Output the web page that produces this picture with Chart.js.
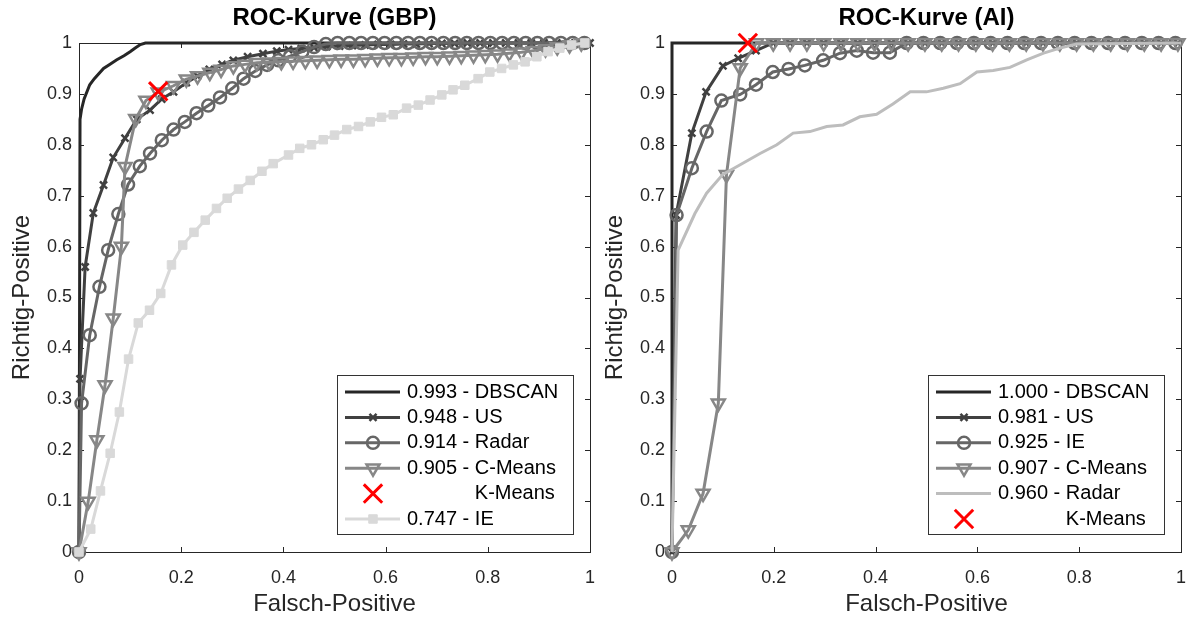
<!DOCTYPE html>
<html>
<head>
<meta charset="utf-8">
<script src="https://cdn.jsdelivr.net/npm/chart.js@4.4.0/dist/chart.umd.min.js"></script>
<style>
  html, body { margin: 0; padding: 0; background: #fff; overflow: hidden; }
  #wrap { position: relative; width: 1187px; height: 619px; }
  .panel { position: absolute; top: 0; height: 619px; }
  .panel canvas { display: block; }
  #left { left: 0; width: 595px; }
  #right { left: 593px; width: 594px; }
</style>
</head>
<body>
<div id="wrap">
  <div class="panel" id="left"><canvas id="gbpChart"></canvas></div>
  <div class="panel" id="right"><canvas id="aiChart"></canvas></div>
</div>
<script>
// ---- GBP (left panel) ----
const gbpDbscanX = [0, 0.002, 0.005, 0.01, 0.021, 0.03, 0.048, 0.06, 0.074, 0.088, 0.1, 0.11, 0.12, 0.13, 1];
const gbpDbscanY = [0, 0.85, 0.87, 0.89, 0.918, 0.93, 0.95, 0.958, 0.967, 0.975, 0.983, 0.99, 0.997, 1, 1];

const gbpUsX = [0, 0.002, 0.012, 0.028, 0.048, 0.067, 0.09, 0.113, 0.139, 0.162, 0.185, 0.21, 0.232, 0.255, 0.28, 0.302, 0.33, 0.36, 0.387, 0.41, 0.435, 0.46, 0.485, 0.51, 0.535, 0.56, 0.585, 0.61, 0.635, 0.66, 0.685, 0.71, 0.735, 0.76, 0.785, 0.81, 0.835, 0.86, 0.885, 0.91, 0.935, 0.96, 0.985, 1];
const gbpUsY = [0, 0.34, 0.56, 0.666, 0.721, 0.775, 0.813, 0.85, 0.868, 0.89, 0.904, 0.922, 0.935, 0.948, 0.958, 0.966, 0.973, 0.979, 0.984, 0.987, 0.989, 0.991, 0.993, 0.994, 0.995, 0.996, 0.997, 0.997, 0.998, 0.998, 0.999, 0.999, 0.999, 1, 1, 1, 1, 1, 1, 1, 1, 1, 1, 1];

const gbpRadarX = [0, 0.005, 0.021, 0.04, 0.057, 0.077, 0.096, 0.119, 0.139, 0.162, 0.185, 0.207, 0.23, 0.253, 0.276, 0.3, 0.322, 0.345, 0.368, 0.39, 0.413, 0.437, 0.46, 0.483, 0.506, 0.529, 0.552, 0.575, 0.598, 0.621, 0.644, 0.667, 0.69, 0.713, 0.736, 0.759, 0.782, 0.805, 0.828, 0.851, 0.874, 0.897, 0.92, 0.943, 0.966, 0.989];
const gbpRadarY = [0, 0.292, 0.426, 0.521, 0.593, 0.664, 0.722, 0.758, 0.783, 0.809, 0.83, 0.845, 0.862, 0.877, 0.893, 0.911, 0.93, 0.945, 0.957, 0.966, 0.974, 0.983, 0.992, 0.998, 1, 1, 1, 1, 1, 1, 1, 1, 1, 1, 1, 1, 1, 1, 1, 1, 1, 1, 1, 1, 1, 1];

const gbpCMeansX = [0, 0.018, 0.035, 0.051, 0.067, 0.083, 0.09, 0.111, 0.131, 0.155, 0.185, 0.21, 0.232, 0.256, 0.278, 0.302, 0.325, 0.348, 0.372, 0.396, 0.419, 0.443, 0.466, 0.49, 0.513, 0.537, 0.56, 0.584, 0.607, 0.631, 0.654, 0.678, 0.701, 0.725, 0.748, 0.772, 0.795, 0.819, 0.842, 0.866, 0.889, 0.913, 0.936, 0.96, 0.983];
const gbpCMeansY = [0, 0.099, 0.22, 0.328, 0.459, 0.6, 0.757, 0.851, 0.887, 0.903, 0.916, 0.929, 0.935, 0.942, 0.948, 0.955, 0.958, 0.961, 0.962, 0.963, 0.964, 0.965, 0.966, 0.967, 0.968, 0.968, 0.969, 0.97, 0.971, 0.971, 0.972, 0.973, 0.973, 0.974, 0.975, 0.976, 0.977, 0.978, 0.98, 0.982, 0.985, 0.988, 0.992, 0.996, 1];

const gbpIeX = [0, 0.023, 0.042, 0.061, 0.079, 0.097, 0.116, 0.138, 0.16, 0.181, 0.203, 0.225, 0.247, 0.269, 0.29, 0.312, 0.335, 0.358, 0.38, 0.41, 0.432, 0.455, 0.478, 0.5, 0.524, 0.547, 0.57, 0.592, 0.615, 0.641, 0.664, 0.687, 0.71, 0.732, 0.755, 0.781, 0.804, 0.827, 0.85, 0.873, 0.896, 0.918, 0.941, 0.964, 0.99];
const gbpIeY = [0, 0.045, 0.12, 0.194, 0.275, 0.379, 0.45, 0.475, 0.508, 0.564, 0.603, 0.628, 0.652, 0.675, 0.695, 0.713, 0.73, 0.748, 0.763, 0.78, 0.793, 0.8, 0.81, 0.819, 0.83, 0.836, 0.845, 0.854, 0.859, 0.872, 0.878, 0.888, 0.898, 0.908, 0.917, 0.93, 0.943, 0.95, 0.957, 0.963, 0.973, 0.983, 0.99, 0.996, 1];

const gbpKMeansX = [0.155];
const gbpKMeansY = [0.905];

// ---- AI (right panel) ----
const aiDbscanX = [0, 0, 1];
const aiDbscanY = [0, 1, 1];

const aiUsX = [0, 0.008, 0.039, 0.067, 0.1, 0.13, 0.165, 0.199, 0.232, 0.265, 0.298, 0.332, 0.365, 0.398, 0.431, 0.464, 0.497, 0.53, 0.563, 0.597, 0.63, 0.663, 0.696, 0.729, 0.762, 0.795, 0.828, 0.862, 0.895, 0.928, 0.961, 0.994];
const aiUsY = [0, 0.662, 0.823, 0.904, 0.955, 0.97, 0.985, 1, 1, 1, 1, 1, 1, 1, 1, 1, 1, 1, 1, 1, 1, 1, 1, 1, 1, 1, 1, 1, 1, 1, 1, 1];

const aiIeX = [0, 0.009, 0.039, 0.068, 0.097, 0.134, 0.165, 0.198, 0.229, 0.261, 0.297, 0.33, 0.363, 0.395, 0.428, 0.461, 0.494, 0.527, 0.56, 0.593, 0.626, 0.659, 0.692, 0.725, 0.758, 0.791, 0.824, 0.857, 0.89, 0.923, 0.956, 0.989];
const aiIeY = [0, 0.662, 0.754, 0.826, 0.887, 0.899, 0.918, 0.943, 0.949, 0.956, 0.966, 0.98, 0.985, 0.981, 0.981, 1, 1, 1, 1, 1, 1, 1, 1, 1, 1, 1, 1, 1, 1, 1, 1, 1];

const aiCMeansX = [0, 0.032, 0.061, 0.091, 0.107, 0.134, 0.166, 0.199, 0.232, 0.265, 0.298, 0.332, 0.365, 0.398, 0.431, 0.464, 0.497, 0.53, 0.563, 0.597, 0.63, 0.663, 0.696, 0.729, 0.762, 0.795, 0.828, 0.862, 0.895, 0.928, 0.961, 0.994];
const aiCMeansY = [0, 0.043, 0.115, 0.292, 0.741, 0.951, 1, 1, 1, 1, 1, 1, 1, 1, 1, 1, 1, 1, 1, 1, 1, 1, 1, 1, 1, 1, 1, 1, 1, 1, 1, 1];

const aiRadarX = [0, 0.012, 0.045, 0.068, 0.1, 0.127, 0.173, 0.206, 0.238, 0.271, 0.304, 0.336, 0.369, 0.402, 0.434, 0.468, 0.5, 0.533, 0.566, 0.599, 0.631, 0.664, 0.697, 0.73, 0.762, 0.795, 1];
const aiRadarY = [0, 0.593, 0.665, 0.705, 0.742, 0.757, 0.783, 0.8, 0.823, 0.826, 0.836, 0.839, 0.855, 0.86, 0.88, 0.904, 0.904, 0.911, 0.92, 0.943, 0.946, 0.952, 0.967, 0.98, 0.99, 0.998, 1];

const aiKMeansX = [0.149];
const aiKMeansY = [1.0];

// ------------------ styles ------------------
Chart.defaults.font.family = "'Liberation Sans', Arial, Helvetica, sans-serif";
Chart.defaults.color = '#262626';

const xy = (xs, ys) => xs.map((x, i) => ({ x: x, y: ys[i] }));

const solid = (c) => ({ borderColor: c, pointRadius: 0 });
const crosses = { borderColor: '#404040', pointStyle: 'crossRot', pointRadius: 5, pointBorderWidth: 2.5 };
const circles = { borderColor: '#666666', pointStyle: 'circle', pointRadius: 6, pointBorderWidth: 2.5 };
const triangles = { borderColor: '#878787', pointStyle: 'triangle', pointRotation: 180, pointRadius: 7.5, pointBorderWidth: 2.5 };
const squares = { borderColor: '#d9d9d9', pointStyle: 'rect', pointRadius: 6, pointBorderWidth: 1, pointBackgroundColor: '#d9d9d9' };
const redX = { borderColor: '#ff0000', showLine: false, pointStyle: 'crossRot', pointRadius: 13, pointBorderWidth: 3 };

function series(label, xs, ys, style, i) {
    return Object.assign({
        label: label,
        data: xy(xs, ys),
        showLine: true,
        fill: false,
        tension: 0,
        borderWidth: 3,
        clip: false,
        order: -i,
        pointBackgroundColor: 'rgba(0,0,0,0)'
    }, style);
}

// frame with inward ticks (MATLAB look)
const frame = {
    id: 'frame',
    beforeDatasetsDraw(chart) {
        const { ctx, chartArea: a, scales } = chart;
        const t = 5;
        ctx.save();
        ctx.strokeStyle = '#262626';
        ctx.lineWidth = 1;
        ctx.strokeRect(a.left + 0.5, a.top + 0.5, a.right - a.left, a.bottom - a.top);
        ctx.beginPath();
        scales.x.ticks.forEach(tk => {
            const px = Math.round(scales.x.getPixelForValue(tk.value)) + 0.5;
            ctx.moveTo(px, a.bottom); ctx.lineTo(px, a.bottom - t);
            ctx.moveTo(px, a.top); ctx.lineTo(px, a.top + t);
        });
        scales.y.ticks.forEach(tk => {
            const py = Math.round(scales.y.getPixelForValue(tk.value)) + 0.5;
            ctx.moveTo(a.left, py); ctx.lineTo(a.left + t, py);
            ctx.moveTo(a.right, py); ctx.lineTo(a.right - t, py);
        });
        ctx.stroke();
        ctx.restore();
    }
};

// legend box inside the plot, lower right
const insideLegend = {
    id: 'insideLegend',
    afterDraw(chart) {
        const { ctx, chartArea: a } = chart;
        const w = 236, h = 159, rowH = 25.4;
        const bx = Math.round(a.right - 17 - w), by = Math.round(a.bottom - 18 - h);
        ctx.save();
        ctx.fillStyle = '#fff';
        ctx.fillRect(bx, by, w, h);
        ctx.strokeStyle = '#333';
        ctx.lineWidth = 1;
        ctx.strokeRect(bx + 0.5, by + 0.5, w, h);
        ctx.font = "20px 'Liberation Sans', Arial, sans-serif";
        ctx.textBaseline = 'middle';
        chart.data.datasets.forEach((ds, i) => {
            const cy = by + 17 + i * rowH;
            ctx.strokeStyle = ds.borderColor;
            if (ds.showLine) {
                ctx.lineWidth = 3;
                ctx.beginPath();
                ctx.moveTo(bx + 8, cy); ctx.lineTo(bx + 63, cy);
                ctx.stroke();
            }
            if (ds.pointRadius > 0) {
                ctx.fillStyle = ds.pointBackgroundColor;
                ctx.lineWidth = ds.pointBorderWidth;
                Chart.helpers.drawPoint(ctx, {
                    pointStyle: ds.pointStyle,
                    rotation: ds.pointRotation || 0,
                    radius: ds.pointRadius,
                    borderWidth: ds.pointBorderWidth
                }, bx + 36, cy);
            }
            let tx = bx + 70;
            if (ds.legendIndent) tx += ctx.measureText(ds.legendIndent).width;
            ctx.fillStyle = '#000';
            ctx.fillText(ds.label, tx, cy);
        });
        ctx.restore();
    }
};

function rocChart(id, title, datasets, padRight) {
    return new Chart(document.getElementById(id), {
        type: 'scatter',
        data: { datasets: datasets },
        options: {
            responsive: true,
            maintainAspectRatio: false,
            animation: false,
            events: [],
            layout: { autoPadding: false, padding: { left: 0, right: padRight, top: 0, bottom: 0 } },
            plugins: {
                legend: { display: false },
                tooltip: { enabled: false },
                title: {
                    display: true,
                    text: title,
                    fullSize: false,
                    color: '#000',
                    font: { size: 24, weight: 'bold' },
                    padding: { top: 4, bottom: 10.2 }
                }
            },
            scales: {
                x: {
                    type: 'linear', min: 0, max: 1,
                    grid: { display: false, drawTicks: true, tickLength: 15 },
                    border: { display: false },
                    ticks: {
                        stepSize: 0.2, padding: 0, maxRotation: 0, autoSkip: false,
                        font: { size: 18 },
                        callback: v => (v === 0 || v === 1) ? String(v) : v.toFixed(1)
                    },
                    title: { display: true, text: 'Falsch-Positive', font: { size: 24 }, padding: { top: 0, bottom: 0 } },
                    afterFit: s => { s.height = 67; s.paddingLeft = 0; s.paddingRight = 0; }
                },
                y: {
                    type: 'linear', min: 0, max: 1,
                    grid: { display: false, drawTicks: false },
                    border: { display: false },
                    ticks: {
                        stepSize: 0.1, padding: 7, autoSkip: false,
                        font: { size: 18 },
                        callback: v => (v === 0 || v === 1) ? String(v) : v.toFixed(1)
                    },
                    title: { display: true, text: 'Richtig-Positive', font: { size: 24 }, padding: { top: 8, bottom: 0 } },
                    afterFit: s => { s.width = 79; }
                }
            }
        },
        plugins: [frame, insideLegend]
    });
}

// ------------------ ROC GBP ------------------
rocChart('gbpChart', 'ROC-Kurve (GBP)', [
    series('0.993 - DBSCAN', gbpDbscanX, gbpDbscanY, solid('#262626'), 0),
    series('0.948 - US', gbpUsX, gbpUsY, crosses, 1),
    series('0.914 - Radar', gbpRadarX, gbpRadarY, circles, 2),
    series('0.905 - C-Means', gbpCMeansX, gbpCMeansY, triangles, 3),
    series('K-Means', gbpKMeansX, gbpKMeansY, Object.assign({ legendIndent: '0.905 - ' }, redX), 4),
    series('0.747 - IE', gbpIeX, gbpIeY, squares, 5)
], 5);

// ------------------ ROC AI ------------------
rocChart('aiChart', 'ROC-Kurve (AI)', [
    series('1.000 - DBSCAN', aiDbscanX, aiDbscanY, solid('#262626'), 0),
    series('0.981 - US', aiUsX, aiUsY, crosses, 1),
    series('0.925 - IE', aiIeX, aiIeY, circles, 2),
    series('0.907 - C-Means', aiCMeansX, aiCMeansY, triangles, 3),
    series('0.960 - Radar', aiRadarX, aiRadarY, solid('#bdbdbd'), 4),
    series('K-Means', aiKMeansX, aiKMeansY, Object.assign({ legendIndent: '0.907 - ' }, redX), 5)
], 6);
</script>
</body>
</html>
